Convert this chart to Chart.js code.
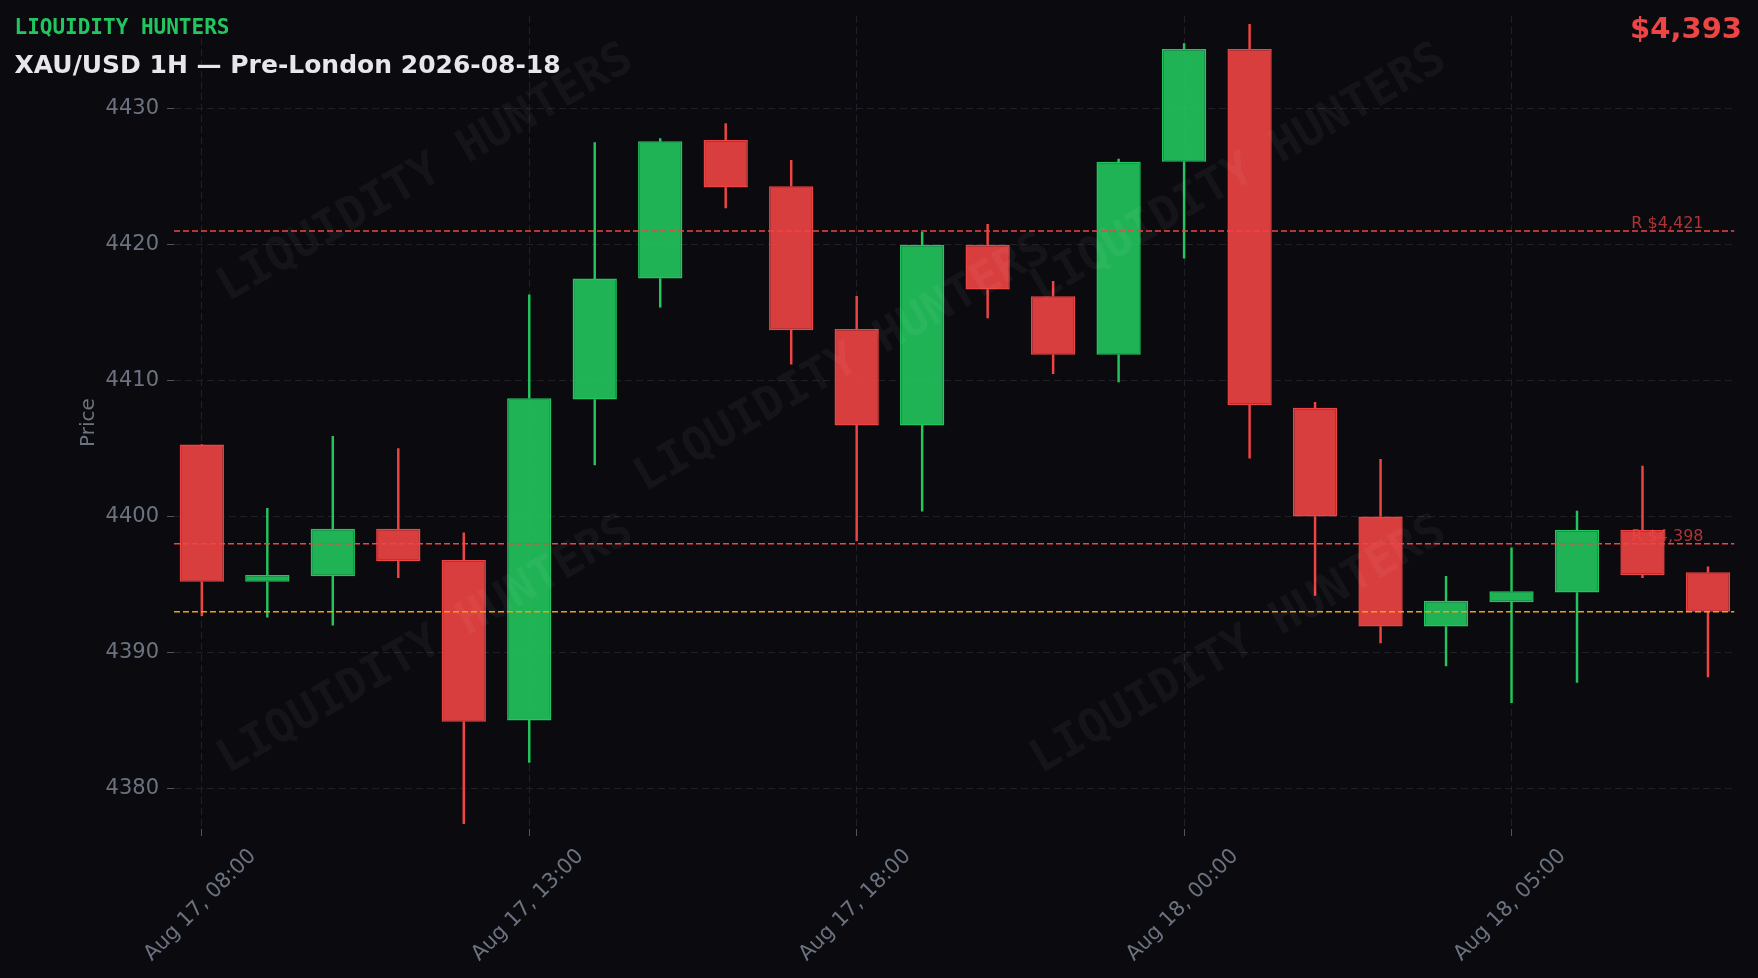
<!DOCTYPE html>
<html>
<head>
<meta charset="utf-8">
<title>XAU/USD 1H — Pre-London</title>
<script src="https://cdn.jsdelivr.net/npm/chart.js@4.4.1/dist/chart.umd.min.js"></script>
<style>
  html, body { margin: 0; padding: 0; background: #0b0b0f; }
  canvas { display: block; }
</style>
</head>
<body>
<canvas id="chart" width="1758" height="978"></canvas>
<script>
// Hourly candles, Aug 17 08:00 -> Aug 18 08:00 (21:00 break hour missing)
const times = [
  'Aug 17, 08:00', 'Aug 17, 09:00', 'Aug 17, 10:00', 'Aug 17, 11:00', 'Aug 17, 12:00',
  'Aug 17, 13:00', 'Aug 17, 14:00', 'Aug 17, 15:00', 'Aug 17, 16:00', 'Aug 17, 17:00',
  'Aug 17, 18:00', 'Aug 17, 19:00', 'Aug 17, 20:00', 'Aug 17, 22:00', 'Aug 17, 23:00',
  'Aug 18, 00:00', 'Aug 18, 01:00', 'Aug 18, 02:00', 'Aug 18, 03:00', 'Aug 18, 04:00',
  'Aug 18, 05:00', 'Aug 18, 06:00', 'Aug 18, 07:00', 'Aug 18, 08:00'
];
const opens  = [4405.3, 4395.2, 4395.6, 4399.1, 4396.8, 4385.0, 4408.6, 4417.5, 4427.7, 4424.3, 4413.8, 4406.7,
                4420.0, 4416.2, 4411.9, 4426.1, 4434.4, 4408.0, 4400.0, 4391.9, 4393.7, 4394.4, 4399.0, 4395.9];
const highs  = [4405.3, 4400.6, 4405.9, 4405.0, 4398.8, 4416.3, 4427.5, 4427.8, 4428.9, 4426.2, 4416.2, 4420.9,
                4421.5, 4417.3, 4426.3, 4434.8, 4436.2, 4408.4, 4404.2, 4395.6, 4397.7, 4400.4, 4403.7, 4396.3];
const lows   = [4392.7, 4392.6, 4392.0, 4395.5, 4377.4, 4381.9, 4403.8, 4415.4, 4422.7, 4411.2, 4398.2, 4400.4,
                4414.6, 4410.5, 4409.9, 4419.0, 4404.3, 4394.2, 4390.7, 4389.0, 4386.3, 4387.8, 4395.5, 4388.2];
const closes = [4395.2, 4395.7, 4399.1, 4396.7, 4384.9, 4408.7, 4417.5, 4427.6, 4424.2, 4413.7, 4406.7, 4420.0,
                4416.7, 4411.9, 4426.1, 4434.4, 4408.2, 4400.0, 4391.9, 4393.8, 4394.5, 4399.0, 4395.7, 4393.0];

const yTicks = [4380, 4390, 4400, 4410, 4420, 4430];
const xTickIdx = [0, 5, 10, 15, 20];
const resistance = [4421, 4398];
const currentPrice = 4393;

const BG = '#0b0b0f';
const UP = '#22c55e', DOWN = '#ef4444';
const UP_FILL = 'rgba(34,197,94,0.9)', DOWN_FILL = 'rgba(239,68,68,0.9)';
const GRID = '#1f2029';
const TICK = '#6b7280';
const FONT = '"DejaVu Sans", sans-serif';
const MONO = '"DejaVu Sans Mono", monospace';

const isUp = i => closes[i] >= opens[i];
const candleColor = ctx => isUp(ctx.dataIndex) ? UP : DOWN;

const bodies = opens.map((o, i) => ({ x: i, y: [o, closes[i]] }));
const upperWicks = opens.map((o, i) => ({ x: i, y: [Math.max(o, closes[i]), highs[i]] }));
const lowerWicks = opens.map((o, i) => ({ x: i, y: [lows[i], Math.min(o, closes[i])] }));

const fmt = v => '$' + v.toLocaleString('en-US');

// watermark centres (canvas px)
const watermarkAt = [[426, 174], [1239, 174], [843, 364], [426, 646], [1239, 646]];

const overlay = {
  id: 'overlay',
  beforeDatasetsDraw(chart) {
    const { ctx, chartArea, scales: { y } } = chart;
    ctx.save();
    ctx.font = '16px ' + FONT;
    ctx.fillStyle = 'rgba(239,68,68,0.72)';
    ctx.textAlign = 'right';
    ctx.textBaseline = 'alphabetic';
    resistance.forEach(v => ctx.fillText('R ' + fmt(v), chartArea.right - 31, y.getPixelForValue(v) - 3));
    ctx.restore();
  },
  afterDatasetsDraw(chart) {
    const { ctx, chartArea, scales: { y } } = chart;
    ctx.save();
    ctx.beginPath();
    ctx.rect(chartArea.left, chartArea.top, chartArea.right - chartArea.left, chartArea.bottom - chartArea.top);
    ctx.clip();
    // watermark
    ctx.font = 'bold 46px ' + MONO;
    ctx.fillStyle = 'rgba(255,255,255,0.045)';
    ctx.textAlign = 'center';
    ctx.textBaseline = 'middle';
    watermarkAt.forEach(([wx, wy]) => {
      ctx.save();
      ctx.translate(wx, wy);
      ctx.rotate(-Math.PI / 6);
      ctx.fillText('LIQUIDITY HUNTERS', 0, 0);
      ctx.restore();
    });
    // level lines
    ctx.lineWidth = 1.5;
    ctx.setLineDash([6, 3]);
    const line = (v, color) => {
      const py = y.getPixelForValue(v);
      ctx.strokeStyle = color;
      ctx.beginPath();
      ctx.moveTo(chartArea.left, py);
      ctx.lineTo(chartArea.right, py);
      ctx.stroke();
    };
    resistance.forEach(v => line(v, DOWN));
    line(currentPrice, '#f59e0b');
    ctx.restore();
  },
  afterDraw(chart) {
    const { ctx } = chart;
    ctx.save();
    ctx.fillStyle = BG;
    ctx.fillRect(8, 10, 228, 28);
    ctx.textAlign = 'left';
    ctx.textBaseline = 'alphabetic';
    ctx.font = 'bold 21px ' + MONO;
    ctx.fillStyle = UP;
    ctx.fillText('LIQUIDITY HUNTERS', 14.5, 33.5);
    ctx.font = 'bold 25px ' + FONT;
    ctx.fillStyle = '#e5e7eb';
    ctx.fillText('XAU/USD 1H — Pre-London 2026-08-18', 14.5, 73);
    ctx.textAlign = 'right';
    ctx.font = 'bold 29px ' + FONT;
    ctx.fillStyle = DOWN;
    ctx.fillText(fmt(currentPrice), 1742, 38);
    ctx.restore();
  }
};

const bg = {
  id: 'bg',
  beforeDraw(chart) {
    const { ctx, width, height } = chart;
    ctx.save();
    ctx.fillStyle = BG;
    ctx.fillRect(0, 0, width, height);
    ctx.restore();
  }
};

new Chart(document.getElementById('chart'), {
  type: 'bar',
  data: {
    datasets: [
      {
        label: 'Body',
        data: bodies,
        backgroundColor: ctx => isUp(ctx.dataIndex) ? UP_FILL : DOWN_FILL,
        borderColor: candleColor,
        borderWidth: 1.5,
        borderSkipped: false,
        barPercentage: 0.676,
        categoryPercentage: 1,
        grouped: false,
        order: 0
      },
      {
        label: 'Upper wick',
        data: upperWicks,
        backgroundColor: candleColor,
        barThickness: 1.8,
        grouped: false,
        order: 1
      },
      {
        label: 'Lower wick',
        data: lowerWicks,
        backgroundColor: candleColor,
        barThickness: 1.8,
        grouped: false,
        order: 1
      }
    ]
  },
  options: {
    responsive: false,
    animation: false,
    devicePixelRatio: 1,
    layout: { padding: { left: 70, right: 23.5, top: 16, bottom: 0 } },
    plugins: { legend: { display: false }, tooltip: { enabled: false } },
    scales: {
      x: {
        type: 'linear',
        min: -0.425,
        max: 23.405,
        offset: false,
        afterBuildTicks: s => { s.ticks = xTickIdx.map(v => ({ value: v })); },
        afterFit: s => { s.height = 149; },
        ticks: {
          autoSkip: false,
          minRotation: 45,
          maxRotation: 45,
          labelOffset: 51,
          padding: 8,
          color: TICK,
          font: { family: FONT, size: 21 },
          callback: v => times[v]
        },
        grid: { offset: false, color: GRID, tickColor: '#4b5563', tickLength: 7, tickBorderDash: [] },
        border: { display: false, dash: [7, 4] }
      },
      y: {
        min: 4377.01,
        max: 4436.82,
        afterBuildTicks: s => { s.ticks = yTicks.map(v => ({ value: v })); },
        afterFit: s => { s.width = 104; s.paddingTop = 0; s.paddingBottom = 0; },
        ticks: {
          padding: 8,
          color: TICK,
          font: { family: FONT, size: 21 },
          callback: v => String(v)
        },
        grid: { color: GRID, tickColor: '#4b5563', tickLength: 7, tickBorderDash: [] },
        border: { display: false, dash: [7, 4] },
        title: { display: true, text: 'Price', color: TICK, padding: { top: 7, bottom: 4 }, font: { family: FONT, size: 20 } }
      }
    }
  },
  plugins: [bg, overlay]
});
</script>
</body>
</html>
